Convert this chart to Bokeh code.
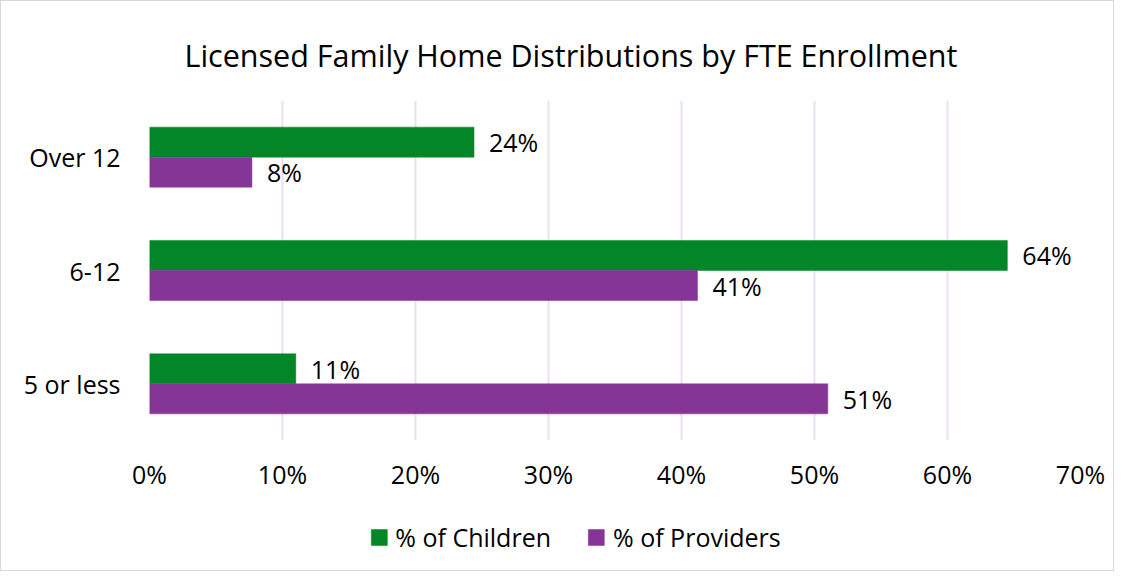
from bokeh.plotting import figure
from bokeh.layouts import column
from bokeh.models import (FactorRange, Range1d, ColumnDataSource, LabelSet,
                          Legend, LegendItem, NumeralTickFormatter, FixedTicker)
from bokeh.transform import dodge
from bokeh.core.properties import value
from bokeh.embed import file_html
from bokeh.resources import INLINE

categories = ["5 or less", "6-12", "Over 12"]
children = [0.11, 0.645, 0.244]
providers = [0.51, 0.412, 0.077]
children_labels = ["11%", "64%", "24%"]
providers_labels = ["51%", "41%", "8%"]
x_ticks = [0, 0.1, 0.2, 0.3, 0.4, 0.5, 0.6, 0.7]

GREEN = "#038627"
PURPLE = "#843596"
FONT = "Open Sans"

src = ColumnDataSource(dict(cat=categories, children=children, providers=providers,
                            cl=children_labels, pl=providers_labels))

# ---- main chart ----
p = figure(width=1112, height=502, y_range=FactorRange(factors=categories),
           x_range=Range1d(0, 0.7), output_backend="svg", toolbar_location=None,
           min_border_left=148, min_border_right=33, min_border_top=99, min_border_bottom=63)
p.outline_line_color = None
p.background_fill_color = "white"

p.title.text = "Licensed Family Home Distributions by FTE Enrollment"
p.title.text_font = FONT
p.title.text_font_size = "30.5px"
p.title.text_font_style = "normal"
p.title.text_color = "#000000"
p.title.align = "left"
p.title.offset = 35
p.title.standoff = 50

def bars(fig):
    a = fig.hbar(y=dodge("cat", 0.1325, range=fig.y_range), right="children", left=0,
                 height=0.265, source=src, fill_color=GREEN, line_color=GREEN, line_width=0.5)
    b = fig.hbar(y=dodge("cat", -0.1325, range=fig.y_range), right="providers", left=0,
                 height=0.265, source=src, fill_color=PURPLE, line_color=PURPLE, line_width=0.5)
    return a, b

bars(p)

for col, lab, off in (("children", "cl", 0.1325), ("providers", "pl", -0.1325)):
    p.add_layout(LabelSet(x=col, y=dodge("cat", off, range=p.y_range), text=lab, source=src,
                          x_offset=15, text_baseline="middle", text_font=value(FONT),
                          text_font_size="25px", text_color="#000000"))

p.xaxis.ticker = FixedTicker(ticks=x_ticks)
p.xaxis.formatter = NumeralTickFormatter(format="0%")
for ax in (p.xaxis[0], p.yaxis[0]):
    ax.axis_line_color = None
    ax.major_tick_line_color = None
    ax.minor_tick_line_color = None
    ax.major_label_text_font = FONT
    ax.major_label_text_font_size = "25px"
    ax.major_label_text_color = "#000000"
p.xaxis.major_label_standoff = 10
p.yaxis.major_label_standoff = 23

p.ygrid.grid_line_color = None
p.xgrid.grid_line_color = "#EDDDF3"
p.xgrid.grid_line_width = 2

# ---- legend strip (its renderers are hidden; only the legend is shown) ----
lg = figure(width=1112, height=67, y_range=FactorRange(factors=categories),
            x_range=Range1d(1, 2), output_backend="svg", toolbar_location=None,
            x_axis_type=None, y_axis_type=None,
            min_border_left=148, min_border_right=33, min_border_top=0, min_border_bottom=0)
lg.outline_line_color = None
lg.grid.grid_line_color = None
lr1, lr2 = bars(lg)
lr1.visible = False
lr2.visible = False

legend = Legend(items=[LegendItem(label="% of Children", renderers=[lr1]),
                       LegendItem(label="% of Providers", renderers=[lr2])],
                location="center", orientation="horizontal",
                title=" ", title_location="right", title_standoff=79,
                title_text_font_size="1px",
                glyph_width=20, glyph_height=20, label_standoff=7, spacing=35,
                padding=0, margin=0, border_line_color=None, background_fill_alpha=0,
                inactive_fill_alpha=0,
                label_text_font=FONT, label_text_font_size="25px", label_text_color="#000000")
lg.add_layout(legend, "center")

layout = column(p, lg, spacing=0, styles={"border": "1px solid #D9D9D9"})

open("out.html", "w").write(file_html(layout, INLINE))
